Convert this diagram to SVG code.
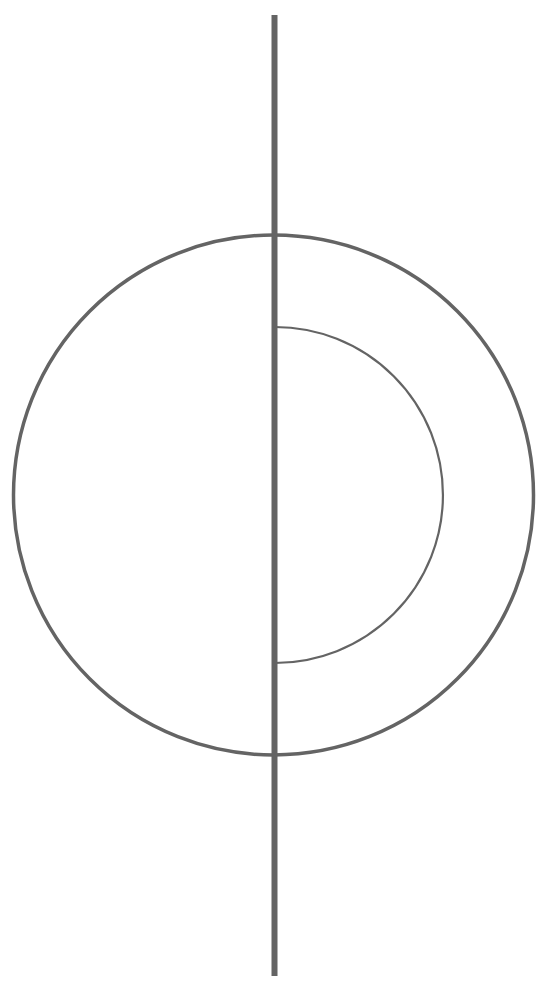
<svg xmlns="http://www.w3.org/2000/svg" width="557" height="1000" viewBox="0 0 557 1000">
<style>
.s{fill:none;stroke:#646464}
</style>
<rect width="557" height="1000" fill="#fff"/>
<g id="outer-circle"><circle class="s" cx="273.5" cy="495" r="260" stroke-width="3.5"/></g>
<g id="inner-arc"><path class="s" d="M275 327 A168 168 0 0 1 275 663" stroke-width="2.2"/></g>
<g id="connectors"><line class="s" x1="274.5" y1="15" x2="274.5" y2="976" stroke-width="6"/></g>
</svg>
